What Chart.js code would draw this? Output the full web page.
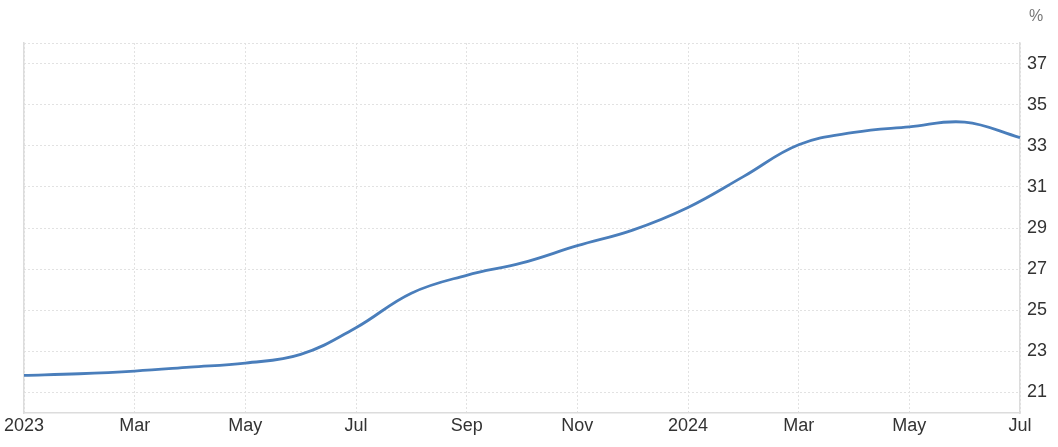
<!DOCTYPE html>
<html>
<head>
<meta charset="utf-8">
<script src="https://cdn.jsdelivr.net/npm/chart.js@4"></script>
<style>
  html, body { margin: 0; padding: 0; background: #fff; }
  #wrap { width: 1058px; height: 447px; }
</style>
</head>
<body>
<div id="wrap"><canvas id="chart"></canvas></div>
<script>
const months = ['Jan 2023', 'Feb 2023', 'Mar 2023', 'Apr 2023', 'May 2023', 'Jun 2023', 'Jul 2023',
  'Aug 2023', 'Sep 2023', 'Oct 2023', 'Nov 2023', 'Dec 2023', 'Jan 2024', 'Feb 2024',
  'Mar 2024', 'Apr 2024', 'May 2024', 'Jun 2024', 'Jul 2024'];
const tickLabels = ['2023', '', 'Mar', '', 'May', '', 'Jul', '', 'Sep', '', 'Nov', '',
  '2024', '', 'Mar', '', 'May', '', 'Jul'];
const values = [21.83, 21.91, 22.04, 22.23, 22.43, 22.85, 24.15, 25.83, 26.7, 27.3, 28.14, 28.9,
  30.0, 31.5, 33.05, 33.65, 33.92, 34.15, 33.4];
const yTicks = [21, 23, 25, 27, 29, 31, 33, 35, 37, 38];

const unitLabel = {
  id: 'unitLabel',
  afterDraw(chart) {
    const ctx = chart.ctx;
    ctx.save();
    ctx.font = '16px "Liberation Sans", Arial, sans-serif';
    ctx.fillStyle = '#777';
    ctx.textAlign = 'center';
    ctx.textBaseline = 'middle';
    ctx.fillText('%', 1036, 17);
    ctx.restore();
  }
};

new Chart(document.getElementById('chart'), {
  type: 'line',
  data: {
    labels: months,
    datasets: [{
      data: values,
      borderColor: '#4a7ebb',
      borderWidth: 2.8,
      pointRadius: 0,
      tension: 0.4,
      fill: false
    }]
  },
  options: {
    responsive: true,
    maintainAspectRatio: false,
    animation: false,
    layout: { padding: { top: 43, left: 24, right: 0, bottom: 0 } },
    plugins: { legend: { display: false }, tooltip: { enabled: false } },
    scales: {
      x: {
        offset: false,
        grid: {
          color: ctx => (ctx.index % 2 === 0 ? '#e2e2e2' : 'rgba(0,0,0,0)'),
          drawTicks: false
        },
        border: { color: '#dcdcdc', width: 1.5, dash: [2, 2] },
        ticks: {
          autoSkip: false,
          maxRotation: 0,
          padding: 2,
          color: '#333',
          font: { size: 18, family: '"Liberation Sans", Arial, sans-serif' },
          callback: (v, i) => tickLabels[i]
        },
        afterFit: axis => { axis.height = 34; }
      },
      y: {
        position: 'right',
        min: 20,
        max: 38,
        afterBuildTicks: axis => { axis.ticks = yTicks.map(v => ({ value: v })); },
        grid: { color: '#e2e2e2', drawTicks: false },
        border: { color: '#dcdcdc', width: 1.5, dash: [2, 2] },
        ticks: {
          padding: 7,
          color: '#333',
          font: { size: 18, family: '"Liberation Sans", Arial, sans-serif' },
          callback: v => (v === 38 ? '' : v)
        },
        afterFit: axis => { axis.width = 38; }
      },
      yLeft: {
        position: 'left',
        min: 20,
        max: 38,
        grid: { display: false },
        ticks: { display: false },
        border: { display: true, color: '#dcdcdc', width: 1.5 },
        afterFit: axis => { axis.width = 0; }
      }
    }
  },
  plugins: [unitLabel]
});
</script>
</body>
</html>
